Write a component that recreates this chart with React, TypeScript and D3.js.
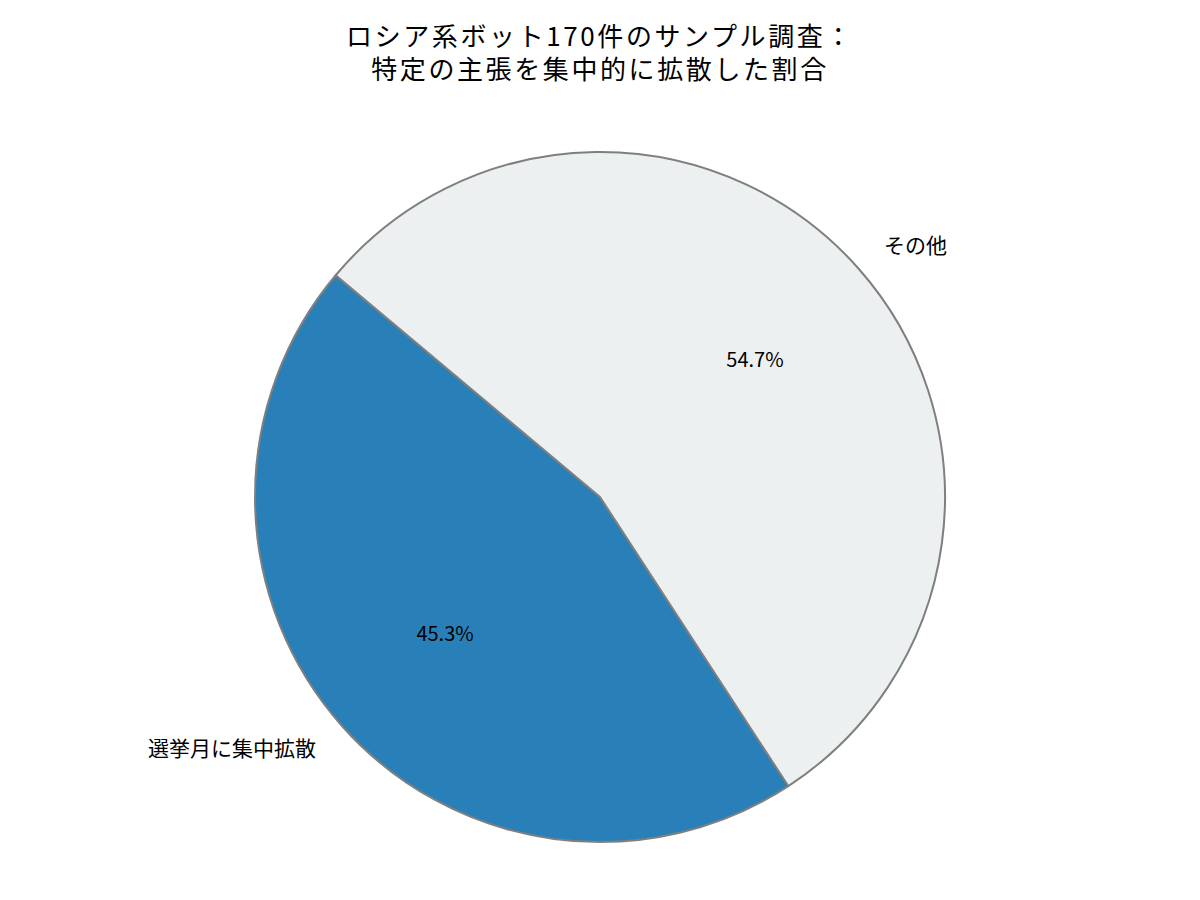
import React from "react";
import * as d3 from "d3";

const titleLines = ["ロシア系ボット170件のサンプル調査：", "特定の主張を集中的に拡散した割合"];
const categories = ["選挙月に集中拡散", "その他"];
const values = [45.3, 54.7];
const colors = ["#2980b9", "#ecf0f1"];

const W = 1200;
const H = 900;
const cx = 600;
const cy = 497;
const R = 345;
const startDeg = 140;

export default function App() {
  const total = d3.sum(values);
  const angle = d3.scaleLinear().domain([0, total]).range([0, 360]);
  const cum = d3.cumsum(values);
  const slices = values.map((v, i) => {
    const a0 = startDeg + angle(cum[i] - v);
    const a1 = startDeg + angle(cum[i]);
    return { v, i, a0, a1, mid: (a0 + a1) / 2 };
  });
  const pt = (deg: number, r: number) => {
    const rad = (deg * Math.PI) / 180;
    return [cx + r * Math.cos(rad), cy - r * Math.sin(rad)];
  };
  const arcPath = (a0: number, a1: number) => {
    const p = d3.path();
    p.moveTo(cx, cy);
    const [x0, y0] = pt(a0, R);
    p.lineTo(x0, y0);
    p.arc(cx, cy, R, (-a0 * Math.PI) / 180, (-a1 * Math.PI) / 180, true);
    p.closePath();
    return p.toString();
  };
  const font = "'Noto Sans CJK JP', 'Noto Sans', sans-serif";
  return (
    <svg width={W} height={H} style={{ position: "absolute", left: 0, top: 0, background: "#fff" }}>
      <rect width={W} height={H} fill="#fff" />
      {titleLines.map((t, i) => (
        <text key={i} x={600} y={46 + i * 33} textAnchor="middle" fontFamily={font} fontSize={26} letterSpacing={2.6} fill="#000">
          {t}
        </text>
      ))}
      {slices.map((s) => (
        <path key={s.i} d={arcPath(s.a0, s.a1)} fill={colors[s.i]} stroke="#7f7f7f" strokeWidth={2} strokeLinejoin="round" />
      ))}
      {slices.map((s) => {
        const [lx, ly] = pt(s.mid, R * 1.1);
        const [px, py] = pt(s.mid, R * 0.6);
        const right = Math.cos((s.mid * Math.PI) / 180) > 0;
        return (
          <g key={s.i}>
            <text x={lx} y={ly} dy="0.35em" textAnchor={right ? "start" : "end"} fontFamily={font} fontSize={21} fill="#000">
              {categories[s.i]}
            </text>
            <text x={px} y={py} dy="0.35em" textAnchor="middle" fontFamily={font} fontSize={20} fill="#000">
              {d3.format(".1f")(s.v)}%
            </text>
          </g>
        );
      })}
    </svg>
  );
}
